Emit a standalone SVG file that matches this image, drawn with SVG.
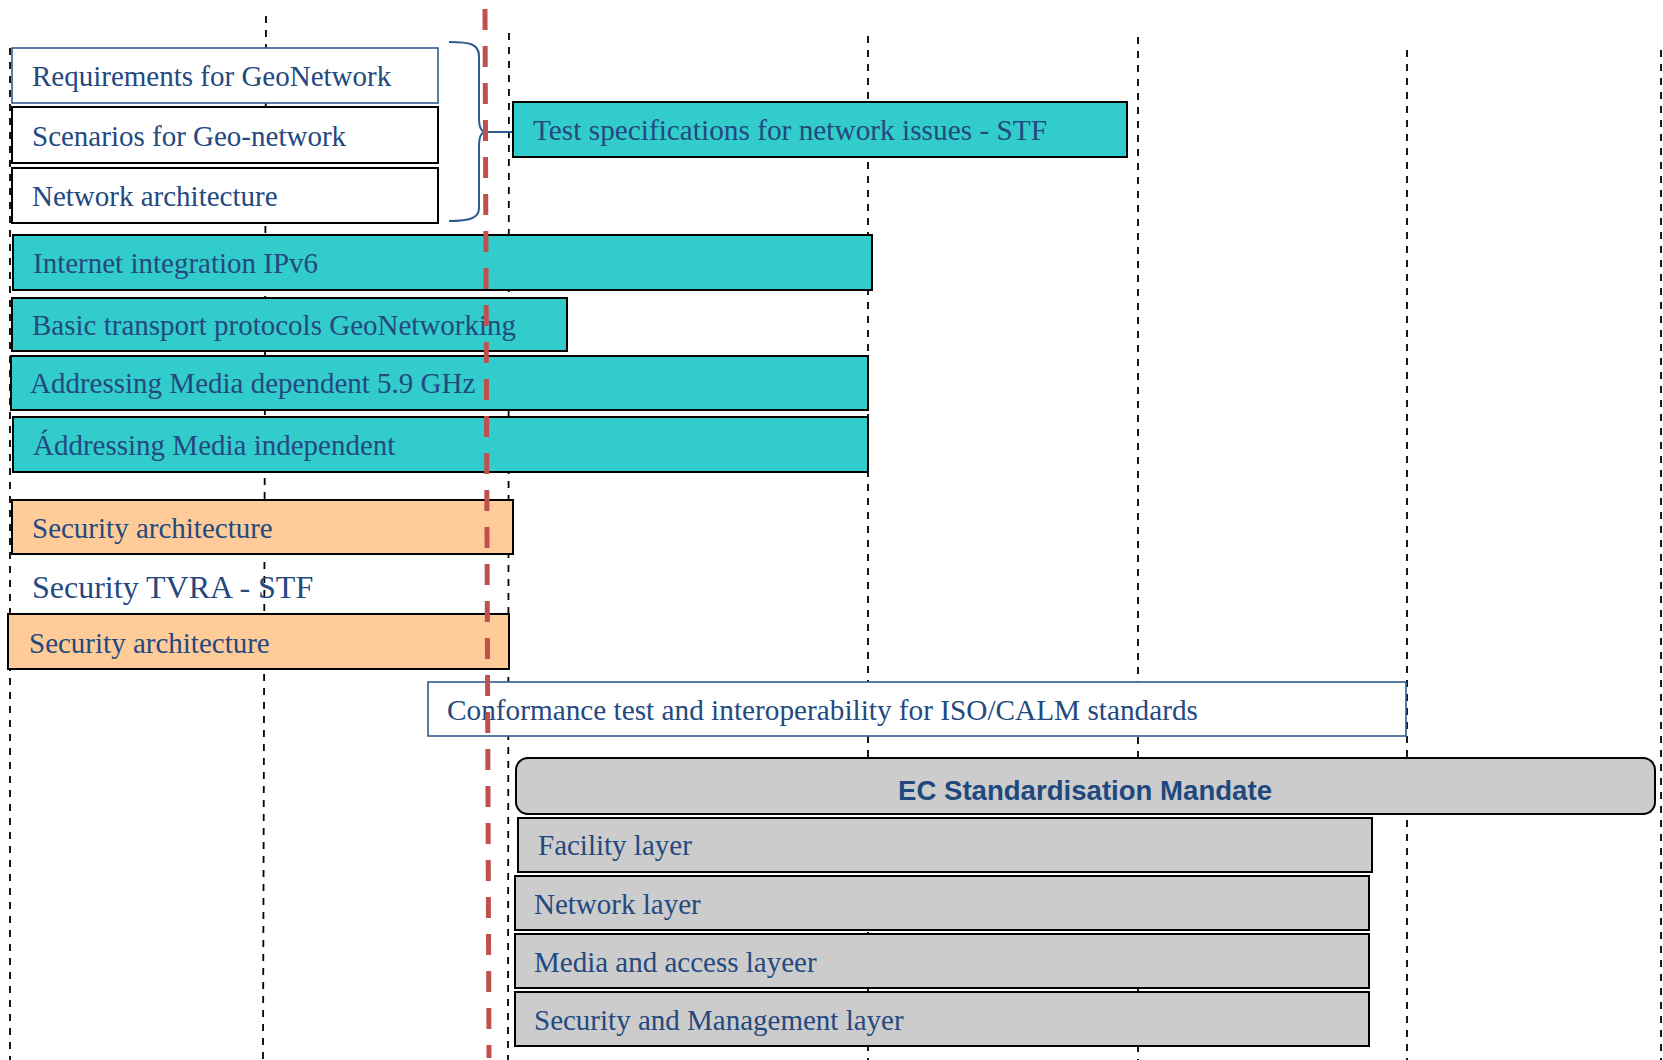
<svg xmlns="http://www.w3.org/2000/svg" width="1663" height="1060" viewBox="0 0 1663 1060">
<style>
.bg{fill:#ffffff}
.grid{stroke:#000;stroke-width:1.8;stroke-dasharray:7 7;fill:none}
.red{stroke:#c0504d;stroke-width:5;stroke-dasharray:21 16;fill:none}
.teal{fill:#33cccc;stroke:#000;stroke-width:2}
.orange{fill:#ffcc99;stroke:#000;stroke-width:2}
.gray{fill:#cccccc;stroke:#000;stroke-width:2}
.white{fill:#ffffff;stroke:#000;stroke-width:2}
.wblue{fill:#ffffff;stroke:#2e5c8f;stroke-width:1.6}
.t{font-family:"Liberation Serif","Times New Roman",serif;font-size:29px;fill:#24497e}
.big{font-size:32px}
.title{font-family:"Liberation Sans",Arial,sans-serif;font-weight:bold;font-size:27px;fill:#1f497d}
.brace{fill:none;stroke:#2e5c8f;stroke-width:2}
</style>
<rect class="bg" x="0" y="0" width="1663" height="1060"/>
<g id="gridlines">
<line class="grid" x1="10" y1="48" x2="10" y2="1060"/>
<line class="grid" x1="266" y1="16" x2="263" y2="1060"/>
<line class="grid" x1="509" y1="33" x2="508" y2="1060"/>
<line class="grid" x1="868" y1="36" x2="868" y2="1060"/>
<line class="grid" x1="1138" y1="37" x2="1138" y2="1060"/>
<line class="grid" x1="1407" y1="50" x2="1407" y2="1060"/>
<line class="grid" x1="1661" y1="50" x2="1661" y2="1060"/>
</g>
<g id="n-requirements"><rect class="wblue" x="12" y="48" width="426" height="55"/><text class="t" x="32" y="86">Requirements for GeoNetwork</text></g>
<g id="n-scenarios"><rect class="white" x="12" y="107" width="426" height="56"/><text class="t" x="32" y="146">Scenarios for Geo-network</text></g>
<g id="n-netarch"><rect class="white" x="12" y="168" width="426" height="55"/><text class="t" x="32" y="206">Network architecture</text></g>
<g id="n-testspec"><rect class="teal" x="513" y="102" width="614" height="55"/><text class="t" x="533" y="140" textLength="514" lengthAdjust="spacingAndGlyphs">Test specifications for network issues - STF</text></g>
<g id="n-ipv6"><rect class="teal" x="13" y="235" width="859" height="55"/><text class="t" x="33" y="273">Internet integration IPv6</text></g>
<g id="n-basic"><rect class="teal" x="12" y="298" width="555" height="53"/><text class="t" x="32" y="335">Basic transport protocols GeoNetworking</text></g>
<g id="n-addrdep"><rect class="teal" x="11" y="356" width="857" height="54"/><text class="t" x="30" y="393">Addressing Media dependent 5.9 GHz</text></g>
<g id="n-addrindep"><rect class="teal" x="13" y="417" width="855" height="55"/><text class="t" x="33" y="455">Áddressing Media independent</text></g>
<g id="n-secarch1"><rect class="orange" x="12" y="500" width="501" height="54"/><text class="t" x="32" y="538">Security architecture</text></g>
<g id="n-tvra"><text class="t big" x="32" y="598">Security TVRA - STF</text></g>
<g id="n-secarch2"><rect class="orange" x="8" y="614" width="501" height="55"/><text class="t" x="29" y="653">Security architecture</text></g>
<g id="n-conformance"><rect class="wblue" x="428" y="682" width="978" height="54"/><text class="t" x="447" y="720" textLength="751" lengthAdjust="spacingAndGlyphs">Conformance test and interoperability for ISO/CALM standards</text></g>
<g id="n-mandate"><rect class="gray" x="516" y="758" width="1139" height="56" rx="12" ry="12"/><text class="title" x="1085" y="800" text-anchor="middle" textLength="374" lengthAdjust="spacingAndGlyphs">EC Standardisation Mandate</text></g>
<g id="n-facility"><rect class="gray" x="518" y="818" width="854" height="54"/><text class="t" x="538" y="855">Facility layer</text></g>
<g id="n-network"><rect class="gray" x="515" y="876" width="854" height="54"/><text class="t" x="534" y="914">Network layer</text></g>
<g id="n-media"><rect class="gray" x="515" y="934" width="854" height="54"/><text class="t" x="534" y="972">Media and access layeer</text></g>
<g id="n-secmgmt"><rect class="gray" x="515" y="992" width="854" height="54"/><text class="t" x="534" y="1030">Security and Management layer</text></g>
<g id="connectors">
<path class="brace" d="M449,42 C470,42 479,44 479,56 L479,118 C479,128 481,132 486,132 L512,132 M486,132 C481,132 479,136 479,146 L479,208 C479,218 470,221 449,221"/>
<line class="red" x1="485" y1="9" x2="489" y2="1058"/>
</g>
</svg>
